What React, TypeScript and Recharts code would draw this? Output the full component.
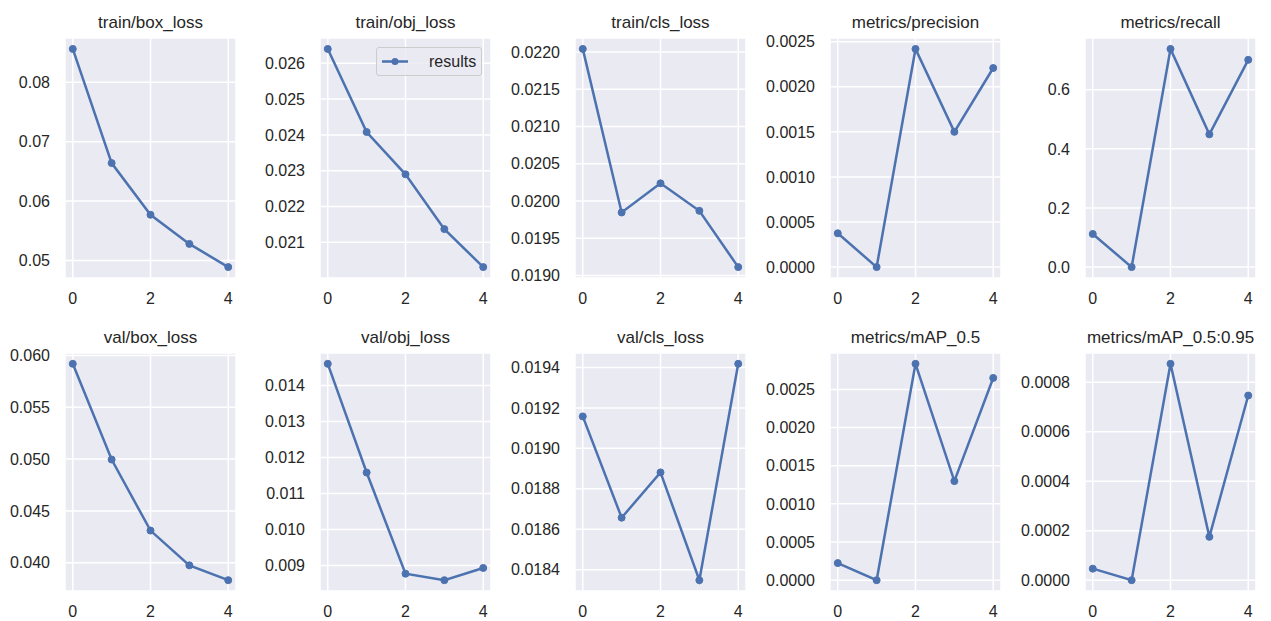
import React from 'react'
import { LineChart, Line, XAxis, YAxis, CartesianGrid, Legend } from 'recharts'

const epochs = [0, 1, 2, 3, 4]
const xTicks = [0, 2, 4]

const titles = [
  'train/box_loss',
  'train/obj_loss',
  'train/cls_loss',
  'metrics/precision',
  'metrics/recall',
  'val/box_loss',
  'val/obj_loss',
  'val/cls_loss',
  'metrics/mAP_0.5',
  'metrics/mAP_0.5:0.95',
]

const trainBoxLoss = [0.0856, 0.0664, 0.0577, 0.0528, 0.0489]
const trainObjLoss = [0.0264, 0.02408, 0.0229, 0.02137, 0.02031]
const trainClsLoss = [0.02204, 0.019845, 0.020236, 0.019867, 0.019112]
const precision = [0.000375, 0, 0.00242, 0.0015, 0.002208]
const recall = [0.112, 0, 0.738, 0.449, 0.701]
const valBoxLoss = [0.0592, 0.04996, 0.0431, 0.03974, 0.03831]
const valObjLoss = [0.0146, 0.01158, 0.00877, 0.00859, 0.00893]
const valClsLoss = [0.019158, 0.018657, 0.018881, 0.018348, 0.019418]
const mAP50 = [0.000224, 0, 0.002835, 0.001298, 0.00265]
const mAP5095 = [0.0000466, 0, 0.000874, 0.000175, 0.000746]

const series = [
  trainBoxLoss, trainObjLoss, trainClsLoss, precision, recall,
  valBoxLoss, valObjLoss, valClsLoss, mAP50, mAP5095,
]

const yTicks = [
  [0.05, 0.06, 0.07, 0.08],
  [0.021, 0.022, 0.023, 0.024, 0.025, 0.026],
  [0.019, 0.0195, 0.02, 0.0205, 0.021, 0.0215, 0.022],
  [0, 0.0005, 0.001, 0.0015, 0.002, 0.0025],
  [0, 0.2, 0.4, 0.6],
  [0.04, 0.045, 0.05, 0.055, 0.06],
  [0.009, 0.01, 0.011, 0.012, 0.013, 0.014],
  [0.0184, 0.0186, 0.0188, 0.019, 0.0192, 0.0194],
  [0, 0.0005, 0.001, 0.0015, 0.002, 0.0025],
  [0, 0.0002, 0.0004, 0.0006, 0.0008],
]
const tickDecimals = [2, 3, 4, 4, 1, 3, 3, 4, 4, 4]

const BLUE = '#4C72B0'
const TEXT = '#262626'
const PANEL_W = 255
const AXIS_W = 65
const RIGHT = 19
// per-row placement: chart top, plot top margin, chart height
const rows = [
  { top: 0, marginTop: 38, height: 318 },
  { top: 314, marginTop: 39, height: 317 },
]

// matplotlib-style 5% padding
function padded(values: number[]): [number, number] {
  const lo = Math.min(...values)
  const hi = Math.max(...values)
  const p = (hi - lo) * 0.05
  return [lo - p, hi + p]
}

function LegendBox(props: any) {
  const items = props.payload || []
  return (
    <div
      style={{
        boxSizing: 'border-box',
        width: 106,
        height: 29,
        border: '1px solid #CCCCCC',
        borderRadius: 3,
        background: 'rgba(234,234,242,0.8)',
        display: 'flex',
        alignItems: 'center',
        fontSize: 16,
        color: TEXT,
      }}
    >
      {items.map((it: any) => (
        <React.Fragment key={it.value}>
          <svg width={52} height={27}>
            <line x1={5} x2={31} y1={13.5} y2={13.5} stroke={BLUE} strokeWidth={2.5} />
            <circle cx={18} cy={13.5} r={3.5} fill={BLUE} />
          </svg>
          <span>{it.value}</span>
        </React.Fragment>
      ))}
    </div>
  )
}

function Panel({ index }: { index: number }) {
  const row = rows[Math.floor(index / 5)]
  const col = index % 5
  const values = series[index]
  const data = epochs.map((e, i) => ({ epoch: e, value: values[i] }))
  const plotW = PANEL_W - AXIS_W - RIGHT
  return (
    <div style={{ position: 'absolute', left: col * PANEL_W, top: row.top, width: PANEL_W, height: row.height }}>
      <div
        style={{
          position: 'absolute',
          left: AXIS_W,
          width: plotW,
          top: row.marginTop - 10 - 14.4,
          textAlign: 'center',
          fontSize: 17,
          lineHeight: '17px',
          color: TEXT,
          whiteSpace: 'nowrap',
        }}
      >
        {titles[index]}
      </div>
      <LineChart
        width={PANEL_W}
        height={row.height}
        data={data}
        margin={{ top: row.marginTop, right: RIGHT, bottom: 0, left: 0 }}
      >
        <CartesianGrid fill="#EAEAF2" stroke="#FFFFFF" strokeWidth={1.5} />
        <XAxis
          dataKey="epoch"
          type="number"
          domain={[-0.2, 4.2]}
          ticks={xTicks}
          allowDataOverflow
          axisLine={false}
          tickLine={false}
          tickSize={0}
          tickMargin={15}
          height={40}
          tick={{ fill: TEXT, fontSize: 16 }}
        />
        <YAxis
          type="number"
          domain={padded(values)}
          ticks={yTicks[index]}
          allowDataOverflow
          axisLine={false}
          tickLine={false}
          tickSize={0}
          tickMargin={15}
          width={AXIS_W}
          tick={{ fill: TEXT, fontSize: 16 }}
          tickFormatter={(v: number) => v.toFixed(tickDecimals[index])}
        />
        {index === 1 && (
          <Legend
            layout="horizontal"
            verticalAlign="middle"
            align="center"
            content={LegendBox}
            wrapperStyle={{ left: 121, top: 47, width: 106, height: 29 }}
          />
        )}
        <Line
          dataKey="value"
          name="results"
          stroke={BLUE}
          strokeWidth={2.5}
          dot={{ r: 3.5, fill: BLUE, stroke: BLUE, strokeWidth: 1 }}
          isAnimationActive={false}
        />
      </LineChart>
    </div>
  )
}

export default function App() {
  return (
    <div
      style={{
        position: 'absolute',
        left: 0,
        top: 0,
        width: 1271,
        height: 621,
        overflow: 'hidden',
        background: '#FFFFFF',
        fontFamily: '"Liberation Sans", Arial, sans-serif',
      }}
    >
      {titles.map((_, i) => (
        <Panel key={i} index={i} />
      ))}
    </div>
  )
}
